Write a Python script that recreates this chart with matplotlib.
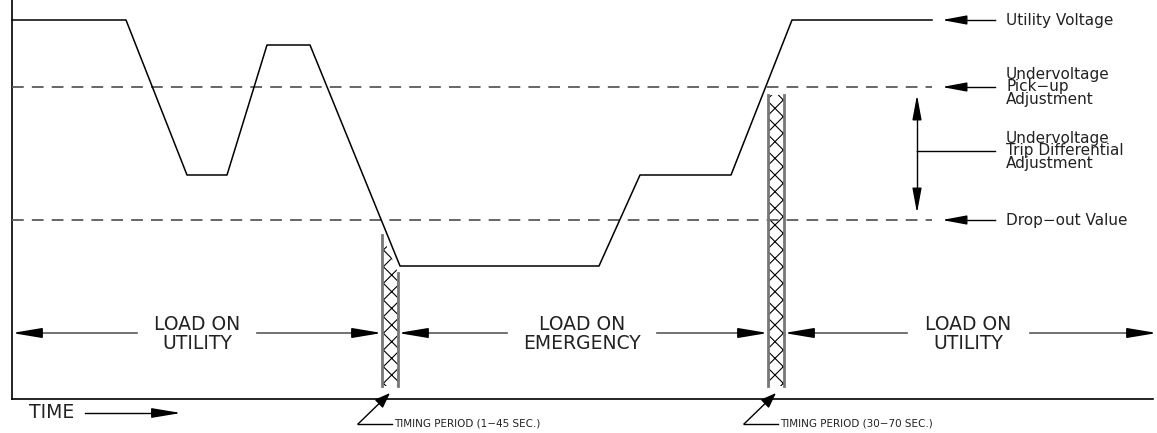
"""Utility voltage / transfer timing diagram."""

import matplotlib.pyplot as plt
from matplotlib.patches import Polygon

# utility voltage trace, drawing units (x = time, y = distance from top)
time_pts = [12, 126, 187, 227, 267, 310, 400, 599, 640, 731, 792, 932]
volt_pts = [20, 20, 175, 175, 45, 45, 266, 266, 175, 175, 20, 20]

pickup_level = 87
dropout_level = 220
trace_end = 932

# right-hand callouts: level, label
callout_levels = [20, 87, 220]
callout_labels = [
    "Utility Voltage",
    "Undervoltage\nPick\u2212up\nAdjustment",
    "Drop\u2212out Value",
]
diff_label = "Undervoltage\nTrip Differential\nAdjustment"

# load periods: (start, end) and label
period_bounds = [(12, 382), (398, 768), (784, 1157)]
period_labels = ["LOAD ON\nUTILITY", "LOAD ON\nEMERGENCY", "LOAD ON\nUTILITY"]
period_gaps = [(137, 257), (507, 657), (907, 1030)]

# timing (hatched) bars: x0, x1, top-left, top-right, bottom
timing_bars = [(382, 398, 235, 273, 386), (768, 784, 95, 95, 386)]
timing_labels = ["TIMING PERIOD (1\u221245 SEC.)", "TIMING PERIOD (30\u221270 SEC.)"]

LINE = "black"
GREY = "#5a5a5a"
TEXT = "#222222"

plt.rcParams["hatch.linewidth"] = 0.8
plt.rcParams["font.family"] = "DejaVu Sans"

fig = plt.figure(figsize=(11.57, 4.33), dpi=100)
ax = fig.add_axes([0, 0, 1, 1])
ax.set_xlim(0, 1157)
ax.set_ylim(433, 0)
ax.axis("off")

# axes frame
ax.plot([12, 12], [0, 399], color=LINE, lw=1.2)
ax.plot([12, 1153], [399, 399], color=LINE, lw=1.2)

# threshold lines
for lvl in (pickup_level, dropout_level):
    ax.plot([12, trace_end], [lvl, lvl], color=GREY, lw=1.3, dashes=(6.5, 4.5))

# voltage trace
ax.plot(time_pts, volt_pts, color=LINE, lw=1.1)

# timing bars
for x0, x1, yl, yr, yb in timing_bars:
    poly = Polygon([(x0, yl), (x1, yr), (x1, yb), (x0, yb)], closed=True,
                   facecolor="white", edgecolor="black", lw=0, hatch="xx")
    ax.add_patch(poly)
    ax.plot([x0, x0], [yl, yb], color="#777777", lw=2)
    ax.plot([x1, x1], [yr, yb], color="#777777", lw=2)


def arrow(tail, tip, shaft=GREY, head_len=25, lw=1.2, hw=0.3):
    """Grey shaft with a long black filled head (drafting style)."""
    dx, dy = tip[0] - tail[0], tip[1] - tail[1]
    n = (dx ** 2 + dy ** 2) ** 0.5
    ux, uy = dx / n, dy / n
    base = (tip[0] - ux * head_len, tip[1] - uy * head_len)
    ax.plot([tail[0], base[0]], [tail[1], base[1]], color=shaft, lw=lw)
    ax.annotate("", xy=tip, xytext=base,
                arrowprops=dict(arrowstyle=f"-|>,head_length={head_len * 0.072:.2f},head_width={hw}",
                                color="black", lw=lw, shrinkA=0, shrinkB=0))


# load-period arrows and labels
row_y = 333
for (x0, x1), (g0, g1), lab in zip(period_bounds, period_gaps, period_labels):
    arrow((g0, row_y), (x0, row_y))
    arrow((g1, row_y), (x1, row_y))
    ax.text((g0 + g1) / 2, row_y + 1, lab, ha="center", va="center",
            fontsize=13.5, linespacing=0.95, color=TEXT)

# right-hand callouts
for lvl, lab in zip(callout_levels, callout_labels):
    arrow((995, lvl), (942, lvl), shaft="black", head_len=21, lw=1.0, hw=0.28)
    ax.text(1006, lvl, lab, ha="left", va="center", fontsize=11,
            linespacing=0.78, color=TEXT)

# trip differential
arrow((917, 151), (917, 95), shaft="black", head_len=21, lw=1.0, hw=0.28)
arrow((917, 151), (917, 213), shaft="black", head_len=21, lw=1.0, hw=0.28)
ax.plot([917, 995], [151, 151], color="black", lw=1.0)
ax.text(1006, 151, diff_label, ha="left", va="center", fontsize=11,
        linespacing=0.78, color=TEXT)

# timing period callouts
for (x0, x1, yl, yr, yb), lab in zip(timing_bars, timing_labels):
    tip_x = (x0 + x1) / 2
    base_x = tip_x - 32
    arrow((base_x, 424), (tip_x, 393), shaft="black", head_len=13, lw=1.0, hw=0.35)
    ax.plot([base_x, tip_x + 2], [424, 424], color="black", lw=1.0)
    ax.text(tip_x + 4, 424, lab, ha="left", va="center", fontsize=7.5,
            color=TEXT)

# time axis label
ax.text(29, 413, "TIME", ha="left", va="center", fontsize=13.5, color=TEXT)
arrow((85, 413), (181, 413), shaft="black", head_len=25, lw=1.0, hw=0.3)

fig.savefig("out.png", dpi=100)
